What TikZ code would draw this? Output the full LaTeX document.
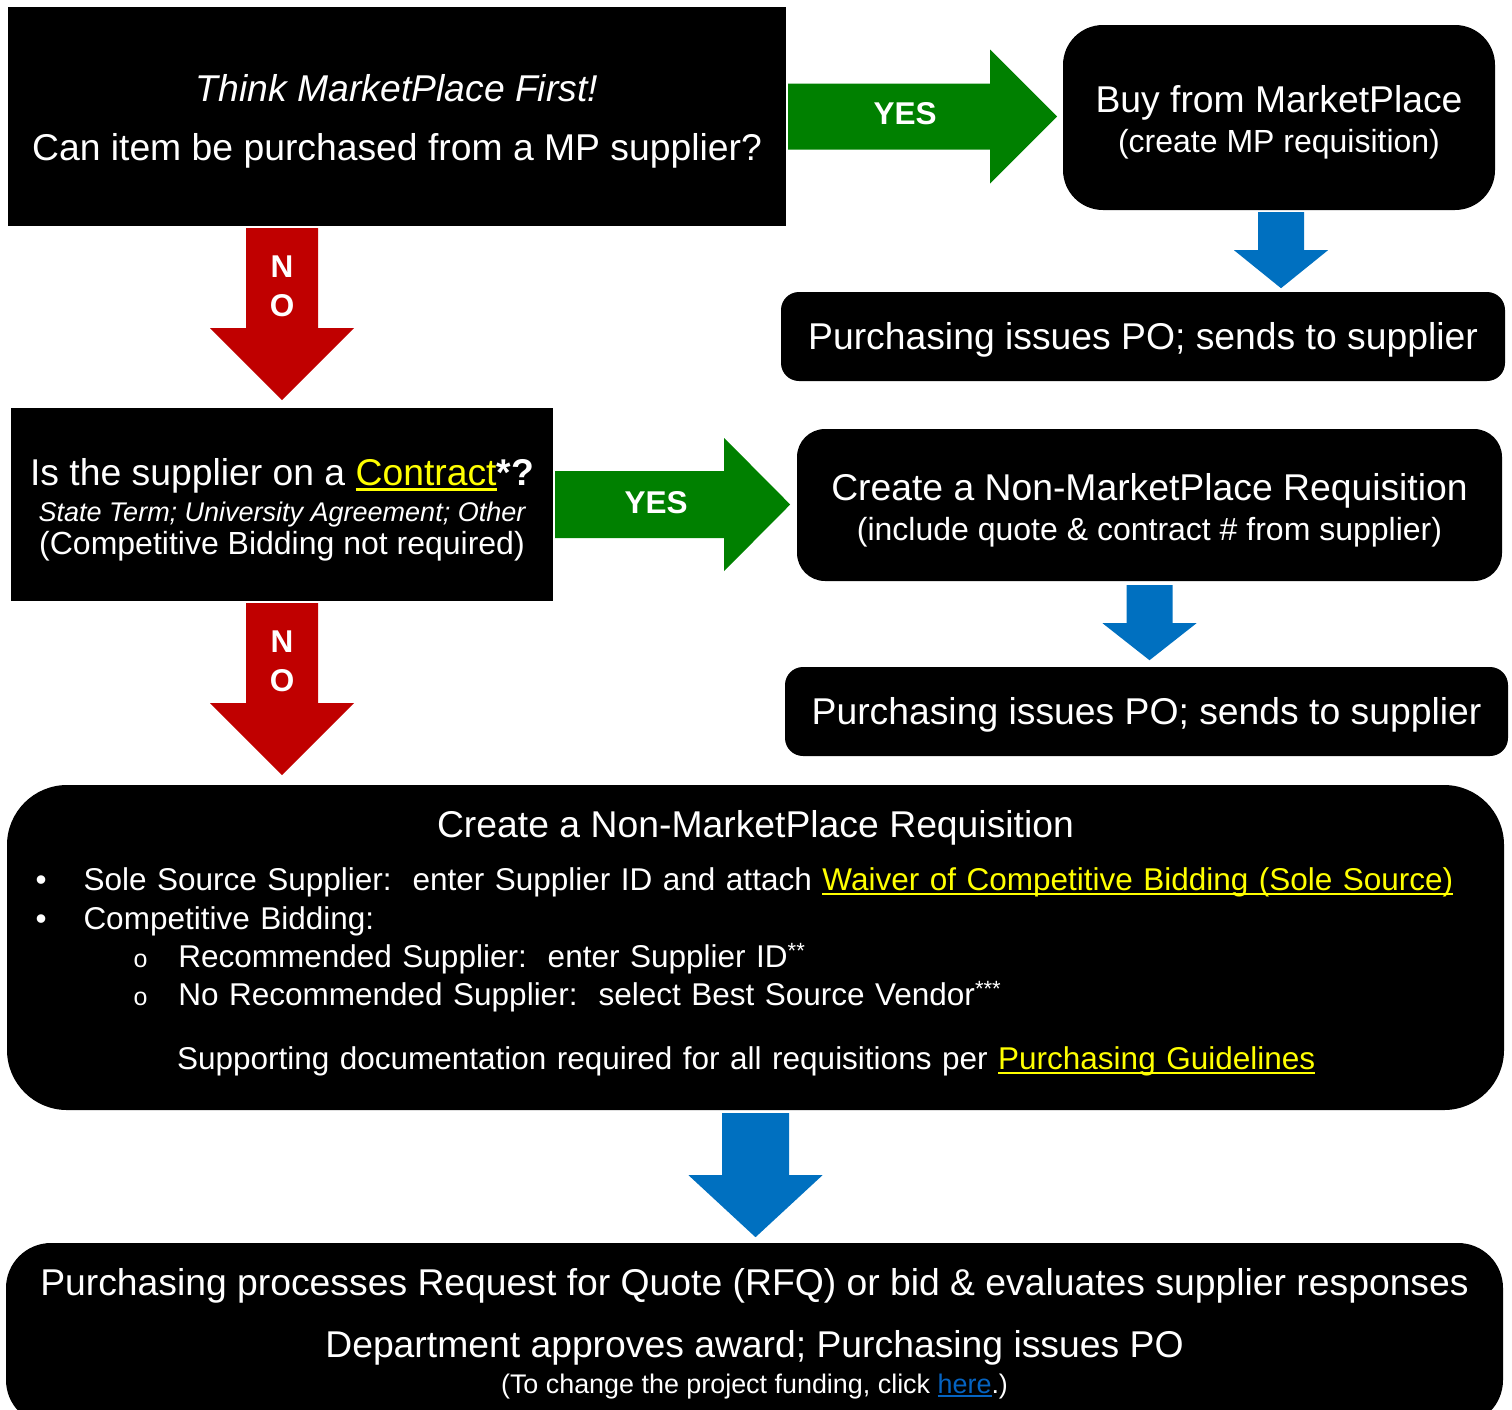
\documentclass[tikz,border=0pt]{standalone}
\usepackage{fontspec}
\setmainfont{Liberation Sans}
\usepackage{xcolor}
\usepackage{tikz}
\usetikzlibrary{positioning}
\usetikzlibrary{calc}

\definecolor{yesgreen}{RGB}{0,128,0}
\definecolor{nored}{RGB}{192,0,0}
\definecolor{flowblue}{RGB}{0,112,192}
\definecolor{linkyellow}{RGB}{255,255,0}
\definecolor{linkblue}{RGB}{5,99,193}

% underlined link text
\newcommand{\ulink}[2]{{\color{#1}\setbox0\hbox{#2}\rlap{\rule[-0.13em]{\wd0}{0.065em}}\box0}}

\begin{document}
\begin{tikzpicture}[
  x=1pt, y=-1pt,
  every node/.style={text=white},
  big/.style={font=\fontsize{37.3}{40}\selectfont}
]
\tikzset{
    blackbox/.style = {rectangle, fill=black, align=center, inner sep=0pt},
    roundbox/.style = {rectangle, rounded corners=#1, fill=black, align=center, inner sep=0pt},
    arrowlabel/.style = {font=\fontsize{31.5}{39}\selectfont\bfseries, align=center, inner sep=0pt}
}
\useasboundingbox (0,0) rectangle (1512,1409);

% boxes
\node[blackbox, minimum width=778pt, minimum height=219pt, font=\fontsize{37.3}{59}\selectfont] (q1) at (397,116.5)
  {\rule{0pt}{37pt}{\itshape Think MarketPlace First!}\\Can item be purchased from a MP supplier?};
\node[roundbox=40pt, minimum width=432pt, minimum height=185pt, big] (mp) at (1279,117.5)
  {\rule{0pt}{36pt}Buy from MarketPlace\\{\fontsize{32}{40}\selectfont (create MP requisition)}};
\node[roundbox=18pt, minimum width=724pt, minimum height=89pt, big] (po1) at (1143,336.5)
  {\rule{0pt}{33pt}Purchasing issues PO; sends to supplier};
\node[blackbox, minimum width=542pt, minimum height=193pt, font=\fontsize{37.3}{36}\selectfont] (q2) at (282,504.5)
  {\rule{0pt}{38pt}Is the supplier on a \ulink{linkyellow}{Contract}\textbf{*?}\\
   {\fontsize{27}{36}\selectfont\itshape State Term; University Agreement; Other}\\[-3pt]
   {\fontsize{32}{36}\selectfont (Competitive Bidding not required)}};
\node[roundbox=28pt, minimum width=705pt, minimum height=152pt, big] (nmp1) at (1149.5,505)
  {\rule{0pt}{37pt}Create a Non-MarketPlace Requisition\\{\fontsize{32}{40}\selectfont (include quote \& contract \# from supplier)}};
\node[roundbox=18pt, minimum width=723pt, minimum height=89pt, big] (po2) at (1146.5,711.5)
  {\rule{0pt}{33pt}Purchasing issues PO; sends to supplier};
\node[roundbox=60pt, minimum width=1497pt, minimum height=325pt, text width=1440pt, align=left,
      font=\fontsize{31.5}{38}\selectfont] (nmp2) at (755.5,947.5)
  {\makebox[1440pt]{\fontsize{37.3}{38}\selectfont Create a Non-MarketPlace Requisition}\\[15pt]
   \textbullet\hspace{37pt}Sole Source Supplier:\ \ enter Supplier ID and attach \ulink{linkyellow}{Waiver of Competitive Bidding (Sole Source)}\\[1pt]
   \textbullet\hspace{37pt}Competitive Bidding:\\
   \hspace*{98pt}{\fontsize{25}{38}\selectfont o}\hspace{31pt}Recommended Supplier:\ \ enter Supplier ID\textsuperscript{**}\\
   \hspace*{98pt}{\fontsize{25}{38}\selectfont o}\hspace{31pt}No Recommended Supplier:\ \ select Best Source Vendor\textsuperscript{***}\\[26pt]
   \hspace*{141.5pt}Supporting documentation required for all requisitions per \ulink{linkyellow}{Purchasing Guidelines}\rule[-15pt]{0pt}{0pt}};
\node[roundbox=45pt, minimum width=1497pt, minimum height=182pt, big] (rfq) at (754.5,1334)
  {Purchasing processes Request for Quote (RFQ) or bid \& evaluates supplier responses\\[22pt]
   Department approves award; Purchasing issues PO\\[-4pt]
   {\fontsize{26.9}{40}\selectfont (To change the project funding, click \ulink{linkblue}{here}.)}};

% yes arrows
\coordinate (yes1) at ([xshift=2pt]q1.east);
\fill[yesgreen] (yes1) +(0,-33) -- +(202,-33) -- +(202,-67) -- +(269,0) -- +(202,67) -- +(202,33) -- +(0,33) -- cycle;
\node[arrowlabel] (yeslbl1) at ($(yes1)+(117,-3)$) {YES};
\coordinate (yes2) at ([xshift=2pt]q2.east);
\fill[yesgreen] (yes2) +(0,-33.5) -- +(169,-33.5) -- +(169,-66.5) -- +(235,0) -- +(169,66.5) -- +(169,33.5) -- +(0,33.5) -- cycle;
\node[arrowlabel] (yeslbl2) at ($(yes2)+(101,-2)$) {YES};

% no arrows
\coordinate (no1) at (q1.south -| q2.north);
\fill[nored] (no1) +(-36,2) -- +(36,2) -- +(36,102) -- +(72,102) -- +(0,174) -- +(-72,102) -- +(-36,102) -- cycle;
\node[arrowlabel] (nolbl1) at ($(no1)+(0,60)$) {N\\O};
\coordinate (no2) at (q2.south);
\fill[nored] (no2) +(-36,2) -- +(36,2) -- +(36,102) -- +(72,102) -- +(0,174) -- +(-72,102) -- +(-36,102) -- cycle;
\node[arrowlabel] (nolbl2) at ($(no2)+(0,60)$) {N\\O};

% blue arrows
\coordinate (down1) at ([xshift=2pt]mp.south);
\fill[flowblue] (down1) +(-23,2) -- +(23,2) -- +(23,40) -- +(47,40) -- +(0,78) -- +(-47,40) -- +(-23,40) -- cycle;
\coordinate (down2) at (nmp1.south);
\fill[flowblue] (down2) +(-23,4) -- +(23,4) -- +(23,42) -- +(47,42) -- +(0,79) -- +(-47,42) -- +(-23,42) -- cycle;
\coordinate (down3) at (nmp2.south);
\fill[flowblue] (down3) +(-33.5,3) -- +(33.5,3) -- +(33.5,65) -- +(67,65) -- +(0,127) -- +(-67,65) -- +(-33.5,65) -- cycle;
\end{tikzpicture}
\end{document}
